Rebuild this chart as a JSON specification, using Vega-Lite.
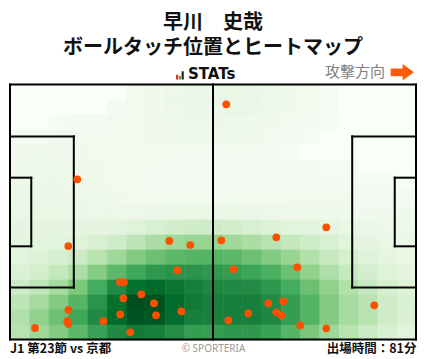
{
"$schema":"https://vega.github.io/schema/vega-lite/v6.json",
"width":406,"height":255,
"autosize":{"type":"none"},
"padding":{"left":10,"top":84.5,"right":12,"bottom":19.5},
"background":"white",
"config":{"view":{"stroke":null},"font":"Noto Sans CJK JP"},
"title":{"text":"早川　史哉","subtitle":"ボールタッチ位置とヒートマップ","anchor":"middle","frame":"group","offset":6,"font":"Noto Sans CJK JP","fontSize":20,"fontWeight":"bold","color":"#111111","subtitleFont":"Noto Sans CJK JP","subtitleFontSize":20,"subtitleFontWeight":"bold","subtitleColor":"#111111","subtitlePadding":5},
"datasets":{
"heat":[
{"x":2.5,"y":2,"v":0},{"x":7.5,"y":2,"v":0},{"x":12.5,"y":2,"v":0},{"x":17.5,"y":2,"v":0},{"x":22.5,"y":2,"v":0},{"x":27.5,"y":2,"v":0},{"x":32.5,"y":2,"v":0.05},{"x":37.5,"y":2,"v":0.06},{"x":42.5,"y":2,"v":0.08},{"x":47.5,"y":2,"v":0.09},{"x":52.5,"y":2,"v":0.09},{"x":57.5,"y":2,"v":0.1},{"x":62.5,"y":2,"v":0.09},{"x":67.5,"y":2,"v":0.07},{"x":72.5,"y":2,"v":0.06},{"x":77.5,"y":2,"v":0.05},{"x":82.5,"y":2,"v":0.03},{"x":87.5,"y":2,"v":0},{"x":92.5,"y":2,"v":0},{"x":97.5,"y":2,"v":0},{"x":102.5,"y":2,"v":0},
{"x":2.5,"y":6,"v":0},{"x":7.5,"y":6,"v":0},{"x":12.5,"y":6,"v":0},{"x":17.5,"y":6,"v":0},{"x":22.5,"y":6,"v":0},{"x":27.5,"y":6,"v":0.04},{"x":32.5,"y":6,"v":0.05},{"x":37.5,"y":6,"v":0.06},{"x":42.5,"y":6,"v":0.08},{"x":47.5,"y":6,"v":0.09},{"x":52.5,"y":6,"v":0.09},{"x":57.5,"y":6,"v":0.1},{"x":62.5,"y":6,"v":0.09},{"x":67.5,"y":6,"v":0.07},{"x":72.5,"y":6,"v":0.06},{"x":77.5,"y":6,"v":0.05},{"x":82.5,"y":6,"v":0.03},{"x":87.5,"y":6,"v":0},{"x":92.5,"y":6,"v":0},{"x":97.5,"y":6,"v":0},{"x":102.5,"y":6,"v":0},
{"x":2.5,"y":10,"v":0},{"x":7.5,"y":10,"v":0},{"x":12.5,"y":10,"v":0.03},{"x":17.5,"y":10,"v":0.04},{"x":22.5,"y":10,"v":0.04},{"x":27.5,"y":10,"v":0.05},{"x":32.5,"y":10,"v":0.05},{"x":37.5,"y":10,"v":0.06},{"x":42.5,"y":10,"v":0.07},{"x":47.5,"y":10,"v":0.08},{"x":52.5,"y":10,"v":0.08},{"x":57.5,"y":10,"v":0.08},{"x":62.5,"y":10,"v":0.07},{"x":67.5,"y":10,"v":0.06},{"x":72.5,"y":10,"v":0.05},{"x":77.5,"y":10,"v":0.04},{"x":82.5,"y":10,"v":0.02},{"x":87.5,"y":10,"v":0},{"x":92.5,"y":10,"v":0},{"x":97.5,"y":10,"v":0},{"x":102.5,"y":10,"v":0},
{"x":2.5,"y":14,"v":0.04},{"x":7.5,"y":14,"v":0.04},{"x":12.5,"y":14,"v":0.05},{"x":17.5,"y":14,"v":0.05},{"x":22.5,"y":14,"v":0.05},{"x":27.5,"y":14,"v":0.05},{"x":32.5,"y":14,"v":0.05},{"x":37.5,"y":14,"v":0.06},{"x":42.5,"y":14,"v":0.06},{"x":47.5,"y":14,"v":0.07},{"x":52.5,"y":14,"v":0.07},{"x":57.5,"y":14,"v":0.06},{"x":62.5,"y":14,"v":0.06},{"x":67.5,"y":14,"v":0.05},{"x":72.5,"y":14,"v":0.04},{"x":77.5,"y":14,"v":0.03},{"x":82.5,"y":14,"v":0},{"x":87.5,"y":14,"v":0},{"x":92.5,"y":14,"v":0},{"x":97.5,"y":14,"v":0},{"x":102.5,"y":14,"v":0},
{"x":2.5,"y":18,"v":0.06},{"x":7.5,"y":18,"v":0.06},{"x":12.5,"y":18,"v":0.06},{"x":17.5,"y":18,"v":0.06},{"x":22.5,"y":18,"v":0.05},{"x":27.5,"y":18,"v":0.05},{"x":32.5,"y":18,"v":0.05},{"x":37.5,"y":18,"v":0.05},{"x":42.5,"y":18,"v":0.05},{"x":47.5,"y":18,"v":0.05},{"x":52.5,"y":18,"v":0.05},{"x":57.5,"y":18,"v":0.05},{"x":62.5,"y":18,"v":0.05},{"x":67.5,"y":18,"v":0.04},{"x":72.5,"y":18,"v":0.03},{"x":77.5,"y":18,"v":0},{"x":82.5,"y":18,"v":0},{"x":87.5,"y":18,"v":0},{"x":92.5,"y":18,"v":0},{"x":97.5,"y":18,"v":0},{"x":102.5,"y":18,"v":0},
{"x":2.5,"y":22,"v":0.07},{"x":7.5,"y":22,"v":0.07},{"x":12.5,"y":22,"v":0.07},{"x":17.5,"y":22,"v":0.07},{"x":22.5,"y":22,"v":0.06},{"x":27.5,"y":22,"v":0.05},{"x":32.5,"y":22,"v":0.05},{"x":37.5,"y":22,"v":0.05},{"x":42.5,"y":22,"v":0.04},{"x":47.5,"y":22,"v":0.04},{"x":52.5,"y":22,"v":0.04},{"x":57.5,"y":22,"v":0.04},{"x":62.5,"y":22,"v":0.04},{"x":67.5,"y":22,"v":0.04},{"x":72.5,"y":22,"v":0.04},{"x":77.5,"y":22,"v":0.04},{"x":82.5,"y":22,"v":0.03},{"x":87.5,"y":22,"v":0.03},{"x":92.5,"y":22,"v":0},{"x":97.5,"y":22,"v":0},{"x":102.5,"y":22,"v":0},
{"x":2.5,"y":26,"v":0.08},{"x":7.5,"y":26,"v":0.08},{"x":12.5,"y":26,"v":0.08},{"x":17.5,"y":26,"v":0.07},{"x":22.5,"y":26,"v":0.06},{"x":27.5,"y":26,"v":0.05},{"x":32.5,"y":26,"v":0.05},{"x":37.5,"y":26,"v":0.04},{"x":42.5,"y":26,"v":0.04},{"x":47.5,"y":26,"v":0.04},{"x":52.5,"y":26,"v":0.04},{"x":57.5,"y":26,"v":0.04},{"x":62.5,"y":26,"v":0.04},{"x":67.5,"y":26,"v":0.04},{"x":72.5,"y":26,"v":0.04},{"x":77.5,"y":26,"v":0.04},{"x":82.5,"y":26,"v":0.04},{"x":87.5,"y":26,"v":0.04},{"x":92.5,"y":26,"v":0.03},{"x":97.5,"y":26,"v":0.03},{"x":102.5,"y":26,"v":0.02},
{"x":2.5,"y":30,"v":0.09},{"x":7.5,"y":30,"v":0.09},{"x":12.5,"y":30,"v":0.09},{"x":17.5,"y":30,"v":0.08},{"x":22.5,"y":30,"v":0.07},{"x":27.5,"y":30,"v":0.06},{"x":32.5,"y":30,"v":0.05},{"x":37.5,"y":30,"v":0.05},{"x":42.5,"y":30,"v":0.05},{"x":47.5,"y":30,"v":0.05},{"x":52.5,"y":30,"v":0.05},{"x":57.5,"y":30,"v":0.05},{"x":62.5,"y":30,"v":0.05},{"x":67.5,"y":30,"v":0.05},{"x":72.5,"y":30,"v":0.05},{"x":77.5,"y":30,"v":0.05},{"x":82.5,"y":30,"v":0.05},{"x":87.5,"y":30,"v":0.05},{"x":92.5,"y":30,"v":0.05},{"x":97.5,"y":30,"v":0.04},{"x":102.5,"y":30,"v":0.04},
{"x":2.5,"y":34,"v":0.1},{"x":7.5,"y":34,"v":0.1},{"x":12.5,"y":34,"v":0.1},{"x":17.5,"y":34,"v":0.09},{"x":22.5,"y":34,"v":0.08},{"x":27.5,"y":34,"v":0.08},{"x":32.5,"y":34,"v":0.08},{"x":37.5,"y":34,"v":0.09},{"x":42.5,"y":34,"v":0.1},{"x":47.5,"y":34,"v":0.1},{"x":52.5,"y":34,"v":0.1},{"x":57.5,"y":34,"v":0.1},{"x":62.5,"y":34,"v":0.09},{"x":67.5,"y":34,"v":0.08},{"x":72.5,"y":34,"v":0.07},{"x":77.5,"y":34,"v":0.07},{"x":82.5,"y":34,"v":0.07},{"x":87.5,"y":34,"v":0.06},{"x":92.5,"y":34,"v":0.06},{"x":97.5,"y":34,"v":0.06},{"x":102.5,"y":34,"v":0.06},
{"x":2.5,"y":38,"v":0.12},{"x":7.5,"y":38,"v":0.12},{"x":12.5,"y":38,"v":0.12},{"x":17.5,"y":38,"v":0.12},{"x":22.5,"y":38,"v":0.12},{"x":27.5,"y":38,"v":0.13},{"x":32.5,"y":38,"v":0.15},{"x":37.5,"y":38,"v":0.18},{"x":42.5,"y":38,"v":0.2},{"x":47.5,"y":38,"v":0.22},{"x":52.5,"y":38,"v":0.22},{"x":57.5,"y":38,"v":0.2},{"x":62.5,"y":38,"v":0.18},{"x":67.5,"y":38,"v":0.16},{"x":72.5,"y":38,"v":0.14},{"x":77.5,"y":38,"v":0.13},{"x":82.5,"y":38,"v":0.12},{"x":87.5,"y":38,"v":0.1},{"x":92.5,"y":38,"v":0.09},{"x":97.5,"y":38,"v":0.08},{"x":102.5,"y":38,"v":0.08},
{"x":2.5,"y":42,"v":0.13},{"x":7.5,"y":42,"v":0.13},{"x":12.5,"y":42,"v":0.14},{"x":17.5,"y":42,"v":0.15},{"x":22.5,"y":42,"v":0.18},{"x":27.5,"y":42,"v":0.22},{"x":32.5,"y":42,"v":0.28},{"x":37.5,"y":42,"v":0.34},{"x":42.5,"y":42,"v":0.38},{"x":47.5,"y":42,"v":0.4},{"x":52.5,"y":42,"v":0.4},{"x":57.5,"y":42,"v":0.38},{"x":62.5,"y":42,"v":0.34},{"x":67.5,"y":42,"v":0.3},{"x":72.5,"y":42,"v":0.26},{"x":77.5,"y":42,"v":0.22},{"x":82.5,"y":42,"v":0.18},{"x":87.5,"y":42,"v":0.14},{"x":92.5,"y":42,"v":0.12},{"x":97.5,"y":42,"v":0.1},{"x":102.5,"y":42,"v":0.09},
{"x":2.5,"y":46,"v":0.14},{"x":7.5,"y":46,"v":0.16},{"x":12.5,"y":46,"v":0.19},{"x":17.5,"y":46,"v":0.23},{"x":22.5,"y":46,"v":0.3},{"x":27.5,"y":46,"v":0.38},{"x":32.5,"y":46,"v":0.46},{"x":37.5,"y":46,"v":0.52},{"x":42.5,"y":46,"v":0.56},{"x":47.5,"y":46,"v":0.58},{"x":52.5,"y":46,"v":0.58},{"x":57.5,"y":46,"v":0.56},{"x":62.5,"y":46,"v":0.52},{"x":67.5,"y":46,"v":0.46},{"x":72.5,"y":46,"v":0.4},{"x":77.5,"y":46,"v":0.32},{"x":82.5,"y":46,"v":0.25},{"x":87.5,"y":46,"v":0.19},{"x":92.5,"y":46,"v":0.15},{"x":97.5,"y":46,"v":0.12},{"x":102.5,"y":46,"v":0.1},
{"x":2.5,"y":50,"v":0.17},{"x":7.5,"y":50,"v":0.2},{"x":12.5,"y":50,"v":0.26},{"x":17.5,"y":50,"v":0.34},{"x":22.5,"y":50,"v":0.45},{"x":27.5,"y":50,"v":0.56},{"x":32.5,"y":50,"v":0.64},{"x":37.5,"y":50,"v":0.7},{"x":42.5,"y":50,"v":0.72},{"x":47.5,"y":50,"v":0.72},{"x":52.5,"y":50,"v":0.7},{"x":57.5,"y":50,"v":0.68},{"x":62.5,"y":50,"v":0.65},{"x":67.5,"y":50,"v":0.6},{"x":72.5,"y":50,"v":0.52},{"x":77.5,"y":50,"v":0.42},{"x":82.5,"y":50,"v":0.33},{"x":87.5,"y":50,"v":0.25},{"x":92.5,"y":50,"v":0.2},{"x":97.5,"y":50,"v":0.15},{"x":102.5,"y":50,"v":0.12},
{"x":2.5,"y":54,"v":0.22},{"x":7.5,"y":54,"v":0.28},{"x":12.5,"y":54,"v":0.36},{"x":17.5,"y":54,"v":0.48},{"x":22.5,"y":54,"v":0.62},{"x":27.5,"y":54,"v":0.76},{"x":32.5,"y":54,"v":0.86},{"x":37.5,"y":54,"v":0.88},{"x":42.5,"y":54,"v":0.84},{"x":47.5,"y":54,"v":0.8},{"x":52.5,"y":54,"v":0.77},{"x":57.5,"y":54,"v":0.76},{"x":62.5,"y":54,"v":0.75},{"x":67.5,"y":54,"v":0.7},{"x":72.5,"y":54,"v":0.62},{"x":77.5,"y":54,"v":0.52},{"x":82.5,"y":54,"v":0.42},{"x":87.5,"y":54,"v":0.32},{"x":92.5,"y":54,"v":0.25},{"x":97.5,"y":54,"v":0.19},{"x":102.5,"y":54,"v":0.15},
{"x":2.5,"y":58,"v":0.28},{"x":7.5,"y":58,"v":0.36},{"x":12.5,"y":58,"v":0.46},{"x":17.5,"y":58,"v":0.58},{"x":22.5,"y":58,"v":0.72},{"x":27.5,"y":58,"v":0.86},{"x":32.5,"y":58,"v":0.97},{"x":37.5,"y":58,"v":0.96},{"x":42.5,"y":58,"v":0.88},{"x":47.5,"y":58,"v":0.82},{"x":52.5,"y":58,"v":0.8},{"x":57.5,"y":58,"v":0.8},{"x":62.5,"y":58,"v":0.8},{"x":67.5,"y":58,"v":0.76},{"x":72.5,"y":58,"v":0.68},{"x":77.5,"y":58,"v":0.58},{"x":82.5,"y":58,"v":0.46},{"x":87.5,"y":58,"v":0.36},{"x":92.5,"y":58,"v":0.3},{"x":97.5,"y":58,"v":0.22},{"x":102.5,"y":58,"v":0.18},
{"x":2.5,"y":62,"v":0.32},{"x":7.5,"y":62,"v":0.42},{"x":12.5,"y":62,"v":0.52},{"x":17.5,"y":62,"v":0.64},{"x":22.5,"y":62,"v":0.76},{"x":27.5,"y":62,"v":0.88},{"x":32.5,"y":62,"v":0.95},{"x":37.5,"y":62,"v":0.94},{"x":42.5,"y":62,"v":0.87},{"x":47.5,"y":62,"v":0.8},{"x":52.5,"y":62,"v":0.79},{"x":57.5,"y":62,"v":0.8},{"x":62.5,"y":62,"v":0.8},{"x":67.5,"y":62,"v":0.77},{"x":72.5,"y":62,"v":0.68},{"x":77.5,"y":62,"v":0.58},{"x":82.5,"y":62,"v":0.46},{"x":87.5,"y":62,"v":0.36},{"x":92.5,"y":62,"v":0.3},{"x":97.5,"y":62,"v":0.22},{"x":102.5,"y":62,"v":0.17},
{"x":2.5,"y":66,"v":0.3},{"x":7.5,"y":66,"v":0.38},{"x":12.5,"y":66,"v":0.46},{"x":17.5,"y":66,"v":0.56},{"x":22.5,"y":66,"v":0.66},{"x":27.5,"y":66,"v":0.76},{"x":32.5,"y":66,"v":0.82},{"x":37.5,"y":66,"v":0.8},{"x":42.5,"y":66,"v":0.74},{"x":47.5,"y":66,"v":0.68},{"x":52.5,"y":66,"v":0.68},{"x":57.5,"y":66,"v":0.7},{"x":62.5,"y":66,"v":0.7},{"x":67.5,"y":66,"v":0.66},{"x":72.5,"y":66,"v":0.58},{"x":77.5,"y":66,"v":0.48},{"x":82.5,"y":66,"v":0.38},{"x":87.5,"y":66,"v":0.3},{"x":92.5,"y":66,"v":0.24},{"x":97.5,"y":66,"v":0.18},{"x":102.5,"y":66,"v":0.14}
],
"touch":[
{"x":15.08,"y":43.07},{"x":41.2,"y":41.73},{"x":46.63,"y":42.8},{"x":43.26,"y":49.55},{"x":28.45,"y":52.67},{"x":29.48,"y":52.67},{"x":33.96,"y":55.95},{"x":29.3,"y":57.01},{"x":37.24,"y":58.35},{"x":15.08,"y":60.13},{"x":28.52,"y":61.28},{"x":37.76,"y":61.55},{"x":44.3,"y":60.48},{"x":14.82,"y":63.07},{"x":15.08,"y":63.87},{"x":24.13,"y":63.07},{"x":6.47,"y":64.93},{"x":31.11,"y":66.08},{"x":54.64,"y":41.55},{"x":68.87,"y":40.75},{"x":81.8,"y":38.08},{"x":57.85,"y":49.28},{"x":74.3,"y":48.75},{"x":70.68,"y":57.81},{"x":66.8,"y":58.35},{"x":68.87,"y":60.75},{"x":70.16,"y":61.55},{"x":61.63,"y":61.01},{"x":56.45,"y":62.88},{"x":75.07,"y":64.21},{"x":81.8,"y":65.01},{"x":94.21,"y":58.88},{"x":17.4,"y":25.28},{"x":55.94,"y":5.28}
],
"lines":[
{"x":0,"y":0,"x2":105,"y2":0},{"x":105,"y":0,"x2":105,"y2":68},{"x":105,"y":68,"x2":0,"y2":68},{"x":0,"y":68,"x2":0,"y2":0},
{"x":52.5,"y":0,"x2":52.5,"y2":68},
{"x":0,"y":13.85,"x2":16.5,"y2":13.85},{"x":16.5,"y":13.85,"x2":16.5,"y2":54.15},{"x":16.5,"y":54.15,"x2":0,"y2":54.15},
{"x":0,"y":24.85,"x2":5.5,"y2":24.85},{"x":5.5,"y":24.85,"x2":5.5,"y2":43.15},{"x":5.5,"y":43.15,"x2":0,"y2":43.15},
{"x":105,"y":13.85,"x2":88.5,"y2":13.85},{"x":88.5,"y":13.85,"x2":88.5,"y2":54.15},{"x":88.5,"y":54.15,"x2":105,"y2":54.15},
{"x":105,"y":24.85,"x2":99.5,"y2":24.85},{"x":99.5,"y":24.85,"x2":99.5,"y2":43.15},{"x":99.5,"y":43.15,"x2":105,"y2":43.15}
]
},
"layer":[
{"data":{"name":"heat"},
 "mark":{"type":"rect","binSpacing":0,"strokeWidth":0.6},
 "encoding":{
  "x":{"field":"x","type":"quantitative","bin":{"extent":[0,105],"step":5},"scale":{"domain":[0,105],"nice":false,"zero":false},"axis":null},
  "y":{"field":"y","type":"quantitative","bin":{"extent":[0,68],"step":4},"scale":{"domain":[0,68],"reverse":true,"nice":false,"zero":false},"axis":null},
  "color":{"field":"v","type":"quantitative","scale":{"domain":[0,0.03,0.125,0.25,0.375,0.5,0.625,0.75,0.875,1],"range":["#ffffff","#f5fbf3","#e5f5e0","#c7e9c0","#a1d99b","#74c476","#41ab5d","#238b45","#006d2c","#00441b"]},"legend":null},
  "stroke":{"field":"v","type":"quantitative","scale":{"domain":[0,0.03,0.125,0.25,0.375,0.5,0.625,0.75,0.875,1],"range":["#ffffff","#f5fbf3","#e5f5e0","#c7e9c0","#a1d99b","#74c476","#41ab5d","#238b45","#006d2c","#00441b"]},"legend":null}
 }},
{"data":{"name":"lines"},
 "mark":{"type":"rule","color":"#000000","strokeWidth":2,"strokeCap":"square"},
 "encoding":{
  "x":{"field":"x","type":"quantitative","scale":{"domain":[0,105],"nice":false,"zero":false},"axis":null},
  "y":{"field":"y","type":"quantitative","scale":{"domain":[0,68],"reverse":true,"nice":false,"zero":false},"axis":null},
  "x2":{"field":"x2"},"y2":{"field":"y2"}
 }},
{"data":{"name":"touch"},
 "mark":{"type":"circle","color":"#ff5000","opacity":1,"size":60},
 "encoding":{
  "x":{"field":"x","type":"quantitative","scale":{"domain":[0,105],"nice":false,"zero":false},"axis":null},
  "y":{"field":"y","type":"quantitative","scale":{"domain":[0,68],"reverse":true,"nice":false,"zero":false},"axis":null}
 }},
{"data":{"values":[{"t":"攻撃方向"}]},
 "mark":{"type":"text","align":"right","baseline":"middle","fontSize":15,"color":"#808080","font":"Noto Sans CJK JP"},
 "encoding":{"x":{"datum":96.98,"type":"quantitative","scale":{"domain":[0,105],"nice":false,"zero":false},"axis":null},"y":{"datum":-3.33,"type":"quantitative","scale":{"domain":[0,68],"reverse":true,"nice":false,"zero":false},"axis":null},"text":{"field":"t"}}},
{"data":{"values":[{"t":"arrow"}]},
 "mark":{"type":"point","shape":"M-1,-0.33L0.03,-0.33L0.03,-0.71L1,0L0.03,0.71L0.03,0.33L-1,0.33Z","filled":true,"color":"#ff5a0a","opacity":1,"size":543,"strokeWidth":0},
 "encoding":{"x":{"datum":101.46,"type":"quantitative","scale":{"domain":[0,105],"nice":false,"zero":false},"axis":null},"y":{"datum":-3.25,"type":"quantitative","scale":{"domain":[0,68],"reverse":true,"nice":false,"zero":false},"axis":null}}},
{"data":{"values":[{"t":"STATs"}]},
 "mark":{"type":"text","align":"left","baseline":"alphabetic","fontSize":15,"fontWeight":"bold","color":"#111111","font":"DejaVu Sans"},
 "encoding":{"x":{"datum":46.03,"type":"quantitative","scale":{"domain":[0,105],"nice":false,"zero":false},"axis":null},"y":{"datum":-1.39,"type":"quantitative","scale":{"domain":[0,68],"reverse":true,"nice":false,"zero":false},"axis":null},"text":{"field":"t"}}},
{"data":{"values":[{"t":"r"}]},
 "mark":{"type":"rect","color":"#e4322b"},
 "encoding":{"x":{"datum":42.93,"type":"quantitative","scale":{"domain":[0,105],"nice":false,"zero":false},"axis":null},"x2":{"datum":43.52},"y":{"datum":-2.61,"type":"quantitative","scale":{"domain":[0,68],"reverse":true,"nice":false,"zero":false},"axis":null},"y2":{"datum":-1.33}}},
{"data":{"values":[{"t":"g"}]},
 "mark":{"type":"rect","color":"#3aaa35"},
 "encoding":{"x":{"datum":43.71,"type":"quantitative","scale":{"domain":[0,105],"nice":false,"zero":false},"axis":null},"x2":{"datum":44.23},"y":{"datum":-2.27,"type":"quantitative","scale":{"domain":[0,68],"reverse":true,"nice":false,"zero":false},"axis":null},"y2":{"datum":-1.33}}},
{"data":{"values":[{"t":"k"}]},
 "mark":{"type":"rect","color":"#111111"},
 "encoding":{"x":{"datum":44.4,"type":"quantitative","scale":{"domain":[0,105],"nice":false,"zero":false},"axis":null},"x2":{"datum":44.92},"y":{"datum":-3.52,"type":"quantitative","scale":{"domain":[0,68],"reverse":true,"nice":false,"zero":false},"axis":null},"y2":{"datum":-1.33}}},
{"data":{"values":[{"t":"J1 第23節 vs 京都"}]},
 "mark":{"type":"text","align":"left","baseline":"alphabetic","fontSize":12.5,"fontWeight":"bold","color":"#111111","font":"Noto Sans CJK JP"},
 "encoding":{"x":{"datum":0,"type":"quantitative","scale":{"domain":[0,105],"nice":false,"zero":false},"axis":null},"y":{"datum":71.6,"type":"quantitative","scale":{"domain":[0,68],"reverse":true,"nice":false,"zero":false},"axis":null},"text":{"field":"t"}}},
{"data":{"values":[{"t":"© SPORTERIA"}]},
 "mark":{"type":"text","align":"center","baseline":"alphabetic","fontSize":10,"color":"#999999","font":"Noto Sans"},
 "encoding":{"x":{"datum":52.63,"type":"quantitative","scale":{"domain":[0,105],"nice":false,"zero":false},"axis":null},"y":{"datum":71.2,"type":"quantitative","scale":{"domain":[0,68],"reverse":true,"nice":false,"zero":false},"axis":null},"text":{"field":"t"}}},
{"data":{"values":[{"t":"出場時間：81分"}]},
 "mark":{"type":"text","align":"right","baseline":"alphabetic","fontSize":12.5,"fontWeight":"bold","color":"#111111","font":"Noto Sans CJK JP"},
 "encoding":{"x":{"datum":105.13,"type":"quantitative","scale":{"domain":[0,105],"nice":false,"zero":false},"axis":null},"y":{"datum":71.6,"type":"quantitative","scale":{"domain":[0,68],"reverse":true,"nice":false,"zero":false},"axis":null},"text":{"field":"t"}}}
]
}
